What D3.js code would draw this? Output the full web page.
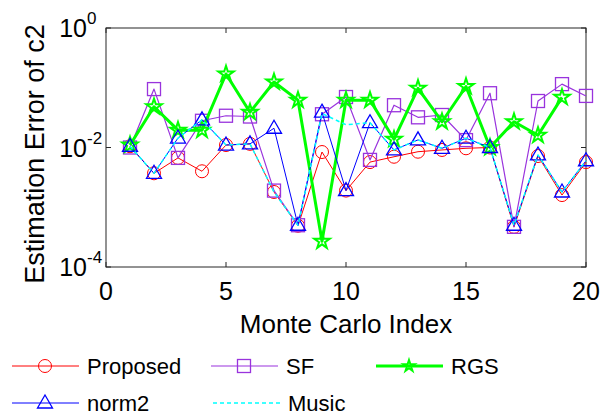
<!DOCTYPE html>
<html>
<head>
<meta charset="utf-8">
<script src="https://cdnjs.cloudflare.com/ajax/libs/d3/7.8.5/d3.min.js"></script>
<style>
body { margin: 0; background: #fff; }
text { font-family: "Liberation Sans", Arial, sans-serif; fill: #000; }
</style>
</head>
<body>
<div id="chart"></div>
<script>
// values, one entry per monte carlo run
var runs = d3.range(1, 21);

var proposed = [1.05e-2, 3.7e-3, 6.7e-3, 4.0e-3, 1.1e-2, 1.15e-2, 1.8e-3, 4.9e-4, 8.4e-3, 1.9e-3,
	5.7e-3, 7.0e-3, 8.5e-3, 9.1e-3, 9.7e-3, 1.0e-2, 4.7e-4, 7.2e-3, 1.6e-3, 5.7e-3];
var sf = [1.0e-2, 9.5e-2, 6.7e-3, 2.8e-2, 3.4e-2, 3.3e-2, 1.9e-3, 5.0e-4, 3.6e-2, 7.0e-2,
	6.2e-3, 5.1e-2, 3.2e-2, 3.5e-2, 1.33e-2, 8.1e-2, 4.7e-4, 6.0e-2, 1.15e-1, 7.3e-2];
var rgs = [1.1e-2, 4.8e-2, 1.95e-2, 1.95e-2, 0.17, 3.9e-2, 0.125, 6.2e-2, 2.7e-4, 6.2e-2,
	6.2e-2, 1.37e-2, 0.098, 2.7e-2, 0.105, 1.0e-2, 2.7e-2, 1.6e-2, 6.9e-2, null];
var norm2 = [1.05e-2, 3.7e-3, 1.44e-2, 2.9e-2, 1.1e-2, 1.15e-2, 2.1e-2, 5.0e-4, 3.9e-2, 1.9e-3,
	2.6e-2, 9.1e-3, 1.34e-2, 9.7e-3, 1.43e-2, 1.0e-2, 5.0e-4, 7.5e-3, 1.8e-3, 6.0e-3];
var music = [1.05e-2, 3.7e-3, 1.44e-2, 2.9e-2, 1.1e-2, 1.15e-2, 1.8e-3, 5.0e-4, 3.7e-2, 2.4e-2,
	2.6e-2, 9.1e-3, 1.34e-2, 9.7e-3, 1.43e-2, 1.0e-2, 5.0e-4, 7.5e-3, 1.8e-3, 6.0e-3];

var xTicks = [0, 5, 10, 15, 20];
var yTicks = [1e-4, 1e-2, 1];
var yTickExp = ["-4", "-2", "0"];

var width = 614,
	height = 418,
	LEFT = 106,
	RIGHT = 586,
	TOP = 28,
	BOTTOM = 267,
	TICK = 5;

var svg = d3.select("#chart").append("svg")
	.attr("width", width)
	.attr("height", height);

var x = d3.scaleLinear().domain([0, 20]).range([LEFT, RIGHT]);
var y = d3.scaleLog().domain([1e-4, 1]).range([BOTTOM, TOP]);

// marker shapes, matlab style (open)
var markers = {
	circle: function(g) {
		g.append("circle").attr("r", 6.5);
	},
	square: function(g) {
		g.append("rect").attr("x", -6.5).attr("y", -6.5).attr("width", 13).attr("height", 13);
	},
	star: function(g, sz) {
		g.append("path").attr("d", d3.symbol().type(d3.symbolStar).size(sz || 75)());
	},
	triangle: function(g) {
		g.append("path").attr("d", "M0,-8L7.5,5L-7.5,5Z");
	},
	none: function(g) {}
};

var series = [
	{ name: "Proposed", values: proposed, color: "#ff0000", lw: 1, marker: "circle", mw: 1, dash: null },
	{ name: "SF", values: sf, color: "#9933dd", lw: 1.2, marker: "square", mw: 1.3, dash: null },
	{ name: "RGS", values: rgs, color: "#00ff00", lw: 3, marker: "star", mw: 2, dash: null },
	{ name: "norm2", values: norm2, color: "#0000ff", lw: 1, marker: "triangle", mw: 1.3, dash: null },
	{ name: "Music", values: music, color: "#00ffff", lw: 1.5, marker: "none", mw: 1, dash: "4,3" }
];

// axes box
svg.append("rect")
	.attr("x", LEFT)
	.attr("y", TOP)
	.attr("width", RIGHT - LEFT)
	.attr("height", BOTTOM - TOP)
	.style("fill", "#fff")
	.style("stroke", "#262626")
	.style("stroke-width", 1);

var ticks = svg.append("g").style("stroke", "#262626").style("stroke-width", 1);

xTicks.forEach(function(t) {
	ticks.append("line").attr("x1", x(t)).attr("x2", x(t)).attr("y1", BOTTOM).attr("y2", BOTTOM - TICK);
	ticks.append("line").attr("x1", x(t)).attr("x2", x(t)).attr("y1", TOP).attr("y2", TOP + TICK);
});
yTicks.forEach(function(t) {
	ticks.append("line").attr("x1", LEFT).attr("x2", LEFT + TICK).attr("y1", y(t)).attr("y2", y(t));
	ticks.append("line").attr("x1", RIGHT).attr("x2", RIGHT - TICK).attr("y1", y(t)).attr("y2", y(t));
});

svg.append("g").selectAll("text")
	.data(xTicks)
	.enter()
	.append("text")
	.attr("x", function(d) { return x(d); })
	.attr("y", 300)
	.style("font-size", "25px")
	.style("text-anchor", "middle")
	.text(function(d) { return d; });

svg.append("g").selectAll("text")
	.data(yTicks)
	.enter()
	.append("text")
	.attr("x", 87)
	.attr("y", function(d) { return y(d) + 9; })
	.style("font-size", "25px")
	.style("text-anchor", "end")
	.text("10");

svg.append("g").selectAll("text")
	.data(yTicks)
	.enter()
	.append("text")
	.attr("x", 87)
	.attr("y", function(d) { return y(d) - 4; })
	.style("font-size", "17px")
	.text(function(d, i) { return yTickExp[i]; });

svg.append("text")
	.attr("x", (LEFT + RIGHT) / 2)
	.attr("y", 333)
	.style("font-size", "26px")
	.style("text-anchor", "middle")
	.text("Monte Carlo Index");

svg.append("text")
	.attr("transform", "translate(44,154) rotate(-90)")
	.style("font-size", "27px")
	.style("text-anchor", "middle")
	.text("Estimation Error of c2");

// the lines and their markers
var line = d3.line()
	.defined(function(d) { return d.v != null; })
	.x(function(d) { return x(d.i); })
	.y(function(d) { return y(d.v); });

var plot = svg.append("g");

series.forEach(function(s) {
	var pts = s.values.map(function(v, k) { return { i: runs[k], v: v }; });
	var g = plot.append("g").attr("class", "series");

	g.append("path")
		.attr("d", line(pts))
		.style("fill", "none")
		.style("stroke", s.color)
		.style("stroke-width", s.lw)
		.style("stroke-dasharray", s.dash)
		.style("stroke-linejoin", "round");

	g.selectAll(".mk")
		.data(pts.filter(function(d) { return d.v != null; }))
		.enter()
		.append("g")
		.attr("class", "mk")
		.attr("transform", function(d) { return "translate(" + x(d.i) + "," + y(d.v) + ")"; })
		.style("fill", "none")
		.style("stroke", s.color)
		.style("stroke-width", s.mw)
		.style("stroke-linejoin", "miter")
		.each(function() { markers[s.marker](d3.select(this)); });
});

// legend, 3 per row
var legendPos = [
	{ x: 12, y: 366 },
	{ x: 211, y: 366 },
	{ x: 376, y: 366 },
	{ x: 12, y: 403 },
	{ x: 213, y: 403 }
];

var legend = svg.append("g");

series.forEach(function(s, i) {
	var p = legendPos[i];
	var g = legend.append("g").attr("transform", "translate(" + p.x + "," + p.y + ")");
	g.append("line")
		.attr("x1", 0)
		.attr("x2", 67)
		.style("stroke", s.color)
		.style("stroke-width", s.lw)
		.style("stroke-dasharray", s.dash);
	var m = g.append("g")
		.attr("transform", "translate(33,0)")
		.style("fill", "none")
		.style("stroke", s.color)
		.style("stroke-width", s.mw);
	markers[s.marker](m, 40);
	g.append("text")
		.attr("x", 75)
		.attr("y", 8)
		.style("font-size", "22px")
		.text(s.name);
});
</script>
</body>
</html>
